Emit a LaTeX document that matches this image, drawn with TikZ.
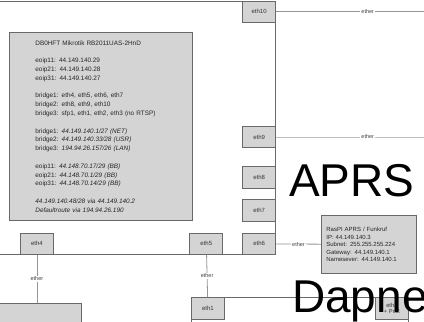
\documentclass[tikz,border=0pt]{standalone}
\usepackage{fontspec}
\setmainfont{Liberation Sans}
\usetikzlibrary{positioning}
\definecolor{portgray}{RGB}{212,212,212}
\definecolor{framegray}{RGB}{105,105,105}
\definecolor{wiregray}{RGB}{150,150,150}
\tikzset{
  device/.style={rectangle, draw=framegray, fill=white, line width=0.8pt, inner sep=0pt},
  port/.style={rectangle, draw=framegray, fill=portgray, line width=0.8pt,
               minimum width=33pt, minimum height=21.5pt, inner sep=0pt,
               font=\fontsize{6}{7}\selectfont, text=black!80},
  infobox/.style={rectangle, draw=framegray, fill=portgray, line width=0.8pt,
                  align=left, text=black!85},
  wire/.style={draw=wiregray, line width=0.8pt},
  lbl/.style={fill=white, inner sep=1pt, font=\fontsize{5.5}{6}\selectfont, text=black!75},
  bigtxt/.style={font=\fontsize{46}{46}\selectfont, inner sep=0pt, anchor=base west}
}

\begin{document}
\begin{tikzpicture}[x=1pt, y=-1pt]
        \useasboundingbox (0,0) rectangle (424,322);
        \clip (0,0) rectangle (424,322);
        \fill[white] (0,0) rectangle (424,322);
        % router
        \node[device, anchor=south east, minimum width=320pt, minimum height=253.5pt] (router) at (276,255) {};
        \node[infobox, anchor=north west, minimum width=183pt, minimum height=188pt, text width=131pt,
              font=\fontsize{6.4}{8.8}\selectfont] (info) at (9,32) {%
          DB0HFT Mikrotik RB2011UAS-2HnD\\[8.8pt]
          eoip11: 44.149.140.29\\
          eoip21: 44.149.140.28\\
          eoip31: 44.149.140.27\\[8.8pt]
          bridge1: eth4, eth5, eth6, eth7\\
          bridge2: eth8, eth9, eth10\\
          bridge3: sfp1, eth1, eth2, eth3 (no RTSP)\\[8.8pt]
          bridge1: \textit{44.149.140.1/27 (NET)}\\
          bridge2: \textit{44.149.140.33/28 (USR)}\\
          bridge3: \textit{194.94.26.157/26 (LAN)}\\[8.8pt]
          eoip11: \textit{44.148.70.17/29 (BB)}\\
          eoip21: \textit{44.148.70.1/29 (BB)}\\
          eoip31: \textit{44.148.70.14/29 (BB)}\\[8.8pt]
          \textit{44.149.140.48/28 via 44.149.140.2}\\
          \textit{Defaultroute via 194.94.26.190}};
        \node[port, anchor=south east] (eth6) at (router.south east) {eth6};
        \node[port, above=11pt of eth6] (eth7) {eth7};
        \node[port, above=11pt of eth7] (eth8) {eth8};
        \node[port, above=18pt of eth8] (eth9) {eth9};
        \node[port, anchor=north east] (eth10) at (router.north east) {eth10};
        \node[port, left=19pt of eth6] (eth5) {eth5};
        \node[port, anchor=south west] (eth4) at (20,255) {eth4};
        % other devices
        \node[device, fill=portgray, anchor=north east, minimum width=120pt, minimum height=40pt] (lowbox) at (82,303) {};
        \node[device, anchor=north west, minimum width=217pt, minimum height=40pt] (dapnet) at (191,297) {};
        \node[port, anchor=north west] (eth1) at (dapnet.north west) {eth1};
        \node[port, anchor=north east, align=center, font=\fontsize{5.8}{6.4}\selectfont] (eth2) at (dapnet.north east) {eth2\\+ PoE};
        \node[infobox, anchor=north west, text width=85pt, inner xsep=5pt, minimum height=58pt,
              font=\fontsize{6}{7.5}\selectfont] (raspi) at (321,215) {%
          RasPI APRS / Funkruf\\
          IP: 44.149.140.3\\
          Subnet: 255.255.255.224\\
          Gateway: 44.149.140.1\\
          Namesever: 44.149.140.1};
        % links
        \coordinate[right=148pt of eth10.east] (e10end);
        \coordinate[right=148pt of eth9.east] (e9end);
        \draw[wire] (eth10) -- node[lbl, pos=0.62] {ether} (e10end);
        \draw[wire, draw=black!25] (eth9) -- node[lbl, pos=0.62] {ether} (e9end);
        \draw[wire] (eth6) -- node[lbl] {ether} (raspi);
        \draw[wire] (eth5) -- node[lbl] {ether} (eth1);
        \draw[wire] (eth4.south) -- node[lbl] {ether} (eth4.south |- lowbox.north);
        \node[bigtxt] (aprs) at (289,196) {APRS};
        \node[bigtxt] (dapne) at (292,312) {Dapne};
      \end{tikzpicture}
\end{document}
